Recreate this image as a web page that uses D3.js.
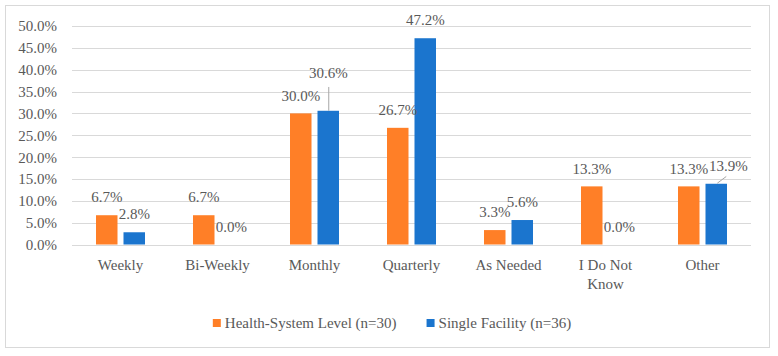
<!DOCTYPE html>
<html>
<head>
<meta charset="utf-8">
<script src="https://cdn.jsdelivr.net/npm/d3@7/dist/d3.min.js"></script>
<style>
  html, body { margin: 0; padding: 0; background: #fff; }
  svg { display: block; }
  svg text { font-family: "Liberation Serif", "DejaVu Serif", serif !important; font-size: 15px; fill: #595959; }
</style>
</head>
<body>
<svg id="chart" width="778" height="356"></svg>
<script>
const categories = ["Weekly", "Bi-Weekly", "Monthly", "Quarterly", "As Needed", "I Do Not Know", "Other"];
const seriesNames = ["Health-System Level (n=30)", "Single Facility (n=36)"];
const healthSystem = [6.7, 6.7, 30.0, 26.7, 3.3, 13.3, 13.3];
const singleFacility = [2.8, 0.0, 30.6, 47.2, 5.6, 0.0, 13.9];
const yTicks = [0, 5, 10, 15, 20, 25, 30, 35, 40, 45, 50];
const colors = ["#FF7F27", "#1B75CE"];

const W = 778, H = 356;
const margin = { left: 72, right: 27, top: 26, bottom: 111 };
const textColor = "#595959";

const svg = d3.select("#chart");
svg.append("rect").attr("x", 5.5).attr("y", 5.5).attr("width", 764).attr("height", 342)
  .attr("fill", "#fff").attr("stroke", "#D9D9D9").attr("stroke-width", 1);

const x0 = d3.scaleBand().domain(categories).range([margin.left, W - margin.right]).paddingInner(0).paddingOuter(0);
const y = d3.scaleLinear().domain([0, 50]).range([244.5, 26]);

// gridlines
svg.append("g").selectAll("line").data(yTicks).join("line")
  .attr("x1", margin.left).attr("x2", W - margin.right)
  .attr("y1", d => Math.round(y(d)) + 0.5).attr("y2", d => Math.round(y(d)) + 0.5)
  .attr("stroke", "#D9D9D9").attr("stroke-width", 1);

// y axis labels
const yAxis = d3.axisLeft(y).tickValues(yTicks).tickSize(0).tickPadding(0)
  .tickFormat(d => d3.format(".1f")(d) + "%");
const gy = svg.append("g").attr("transform", "translate(57,0)").call(yAxis);
gy.select(".domain").remove();
gy.attr("font-family", null).attr("font-size", null);
gy.selectAll("text").attr("fill", textColor).attr("dy", "0.33em");

// bars
const barW = 21.5, gap = 6;
const series = [healthSystem, singleFacility];
const offsets = [-(gap / 2 + barW / 2), gap / 2 + barW / 2];
const barsData = [];
series.forEach((vals, si) => {
  vals.forEach((v, i) => {
    barsData.push({ si, i, v, cx: x0(categories[i]) + x0.bandwidth() / 2 + offsets[si] });
  });
});
svg.append("g").selectAll("rect").data(barsData).join("rect")
  .attr("x", d => d.cx - barW / 2).attr("width", barW)
  .attr("y", d => y(d.v)).attr("height", d => y(0) - y(d.v))
  .attr("fill", d => colors[d.si]);

// data labels (with manual adjustments like the original)
const labelAdjust = { "1-2": { dx: 0, dy: -20, leader: true }, "1-6": { dx: 12, dy: 0, leader: true } };
const lg = svg.append("g");
barsData.forEach(d => {
  const key = d.si + "-" + d.i;
  const adj = labelAdjust[key] || { dx: 0, dy: 0 };
  const lx = d.cx + adj.dx, ly = y(d.v) - 12.8 + adj.dy;
  lg.append("text").attr("x", lx).attr("y", ly).attr("text-anchor", "middle")
    .attr("fill", textColor)
    .text(d3.format(".1f")(d.v) + "%");
  if (adj.leader) {
    if (adj.dy !== 0) {
      lg.append("line").attr("x1", d.cx + 0.5).attr("x2", d.cx + 0.5)
        .attr("y1", ly + 9).attr("y2", y(d.v)).attr("stroke", "#A6A6A6").attr("stroke-width", 1);
    } else {
      lg.append("line").attr("x1", d.cx + 1).attr("x2", d.cx + 10)
        .attr("y1", y(d.v) - 0.5).attr("y2", ly + 5.5).attr("stroke", "#A6A6A6").attr("stroke-width", 1);
    }
  }
});

// x axis category labels
const xAxis = d3.axisBottom(x0).tickSize(0).tickPadding(0);
const gx = svg.append("g").attr("transform", "translate(0,259)").call(xAxis);
gx.select(".domain").remove();
gx.attr("font-family", null).attr("font-size", null);
gx.selectAll("text").attr("fill", textColor)
  .attr("dy", "0.75em")
  .each(function (d) {
    const t = d3.select(this);
    const words = d.split(" ");
    t.text(null);
    let line = [], lines = [];
    const tmp = t.append("tspan");
    words.forEach(w => {
      line.push(w);
      tmp.text(line.join(" "));
      if (tmp.node().getComputedTextLength() > 80 && line.length > 1) {
        line.pop(); lines.push(line.join(" ")); line = [w];
      }
    });
    lines.push(line.join(" "));
    tmp.remove();
    lines.forEach((l, k) => {
      t.append("tspan").attr("x", 0).attr("dy", k === 0 ? "0.75em" : "19px").text(l);
    });
  });

// legend
const legend = svg.append("g");
const items = legend.selectAll("g").data(seriesNames).join("g");
items.append("rect").attr("width", 8).attr("height", 8).attr("y", 319)
  .attr("fill", (d, i) => colors[i]);
items.append("text").attr("x", 12).attr("y", 327.5).attr("fill", textColor).text(d => d);
const itemGap = 30;
let xpos = 0;
const positions = [];
items.each(function (d, i) {
  const w = d3.select(this).select("text").node().getComputedTextLength() + 12;
  positions.push(xpos);
  xpos += w + itemGap;
});
const totalW = xpos - itemGap;
const startX = 392 - totalW / 2;
items.attr("transform", (d, i) => `translate(${startX + positions[i]},0)`);
</script>
</body>
</html>
